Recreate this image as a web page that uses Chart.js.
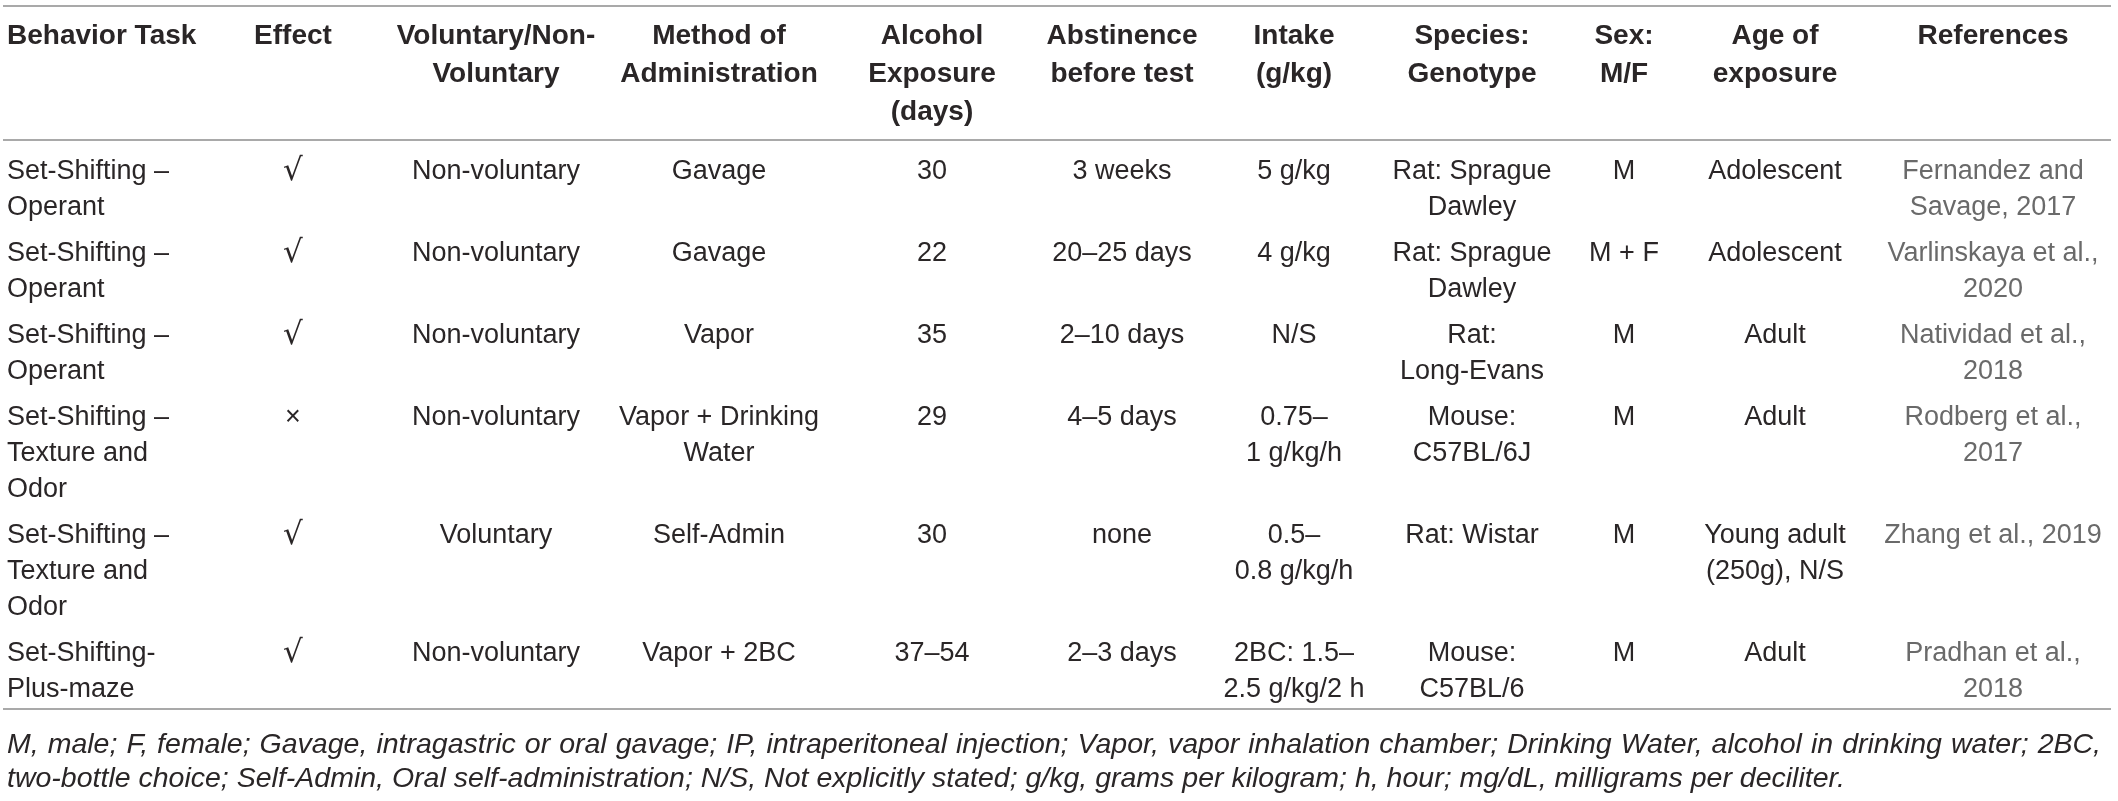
<!DOCTYPE html>
<html>
<head>
<meta charset="utf-8">
<title>Set-shifting table</title>
<script src="https://cdn.jsdelivr.net/npm/chart.js@4.4.1/dist/chart.umd.min.js"></script>
<style>
    html, body {
        margin: 0;
        padding: 0;
        background: #ffffff;
    }

    #wrap {
        width: 2118px;
        height: 801px;
    }
</style>
</head>
<body>
<div id="wrap">
    <canvas id="tbl" width="2118" height="801"></canvas>
</div>
<script>
// ---- table content ----

const headers = [
    ["Behavior Task"],
    ["Effect"],
    ["Voluntary/Non-", "Voluntary"],
    ["Method of", "Administration"],
    ["Alcohol", "Exposure", "(days)"],
    ["Abstinence", "before test"],
    ["Intake", "(g/kg)"],
    ["Species:", "Genotype"],
    ["Sex:", "M/F"],
    ["Age of", "exposure"],
    ["References"]
];

const behaviorTask = [
    ["Set-Shifting –", "Operant"],
    ["Set-Shifting –", "Operant"],
    ["Set-Shifting –", "Operant"],
    ["Set-Shifting –", "Texture and", "Odor"],
    ["Set-Shifting –", "Texture and", "Odor"],
    ["Set-Shifting-", "Plus-maze"]
];

const effect = ["√", "√", "√", "×", "√", "√"];

const voluntary = [
    "Non-voluntary",
    "Non-voluntary",
    "Non-voluntary",
    "Non-voluntary",
    "Voluntary",
    "Non-voluntary"
];

const method = [
    "Gavage",
    "Gavage",
    "Vapor",
    ["Vapor + Drinking", "Water"],
    "Self-Admin",
    "Vapor + 2BC"
];

const exposureDays = ["30", "22", "35", "29", "30", "37–54"];

const abstinence = [
    "3 weeks",
    "20–25 days",
    "2–10 days",
    "4–5 days",
    "none",
    "2–3 days"
];

const intake = [
    "5 g/kg",
    "4 g/kg",
    "N/S",
    ["0.75–", "1 g/kg/h"],
    ["0.5–", "0.8 g/kg/h"],
    ["2BC: 1.5–", "2.5 g/kg/2 h"]
];

const species = [
    ["Rat: Sprague", "Dawley"],
    ["Rat: Sprague", "Dawley"],
    ["Rat:", "Long-Evans"],
    ["Mouse:", "C57BL/6J"],
    "Rat: Wistar",
    ["Mouse:", "C57BL/6"]
];

const sex = ["M", "M + F", "M", "M", "M", "M"];

const ageOfExposure = [
    "Adolescent",
    "Adolescent",
    "Adult",
    "Adult",
    ["Young adult", "(250g), N/S"],
    "Adult"
];

const references = [
    ["Fernandez and", "Savage, 2017"],
    ["Varlinskaya et al.,", "2020"],
    ["Natividad et al.,", "2018"],
    ["Rodberg et al.,", "2017"],
    "Zhang et al., 2019",
    ["Pradhan et al.,", "2018"]
];

const footnote = [
    "M, male; F, female; Gavage, intragastric or oral gavage; IP, intraperitoneal injection; Vapor, vapor inhalation chamber; Drinking Water, alcohol in drinking water; 2BC,",
    "two-bottle choice; Self-Admin, Oral self-administration; N/S, Not explicitly stated; g/kg, grams per kilogram; h, hour; mg/dL, milligrams per deciliter."
];

const columns = [
    behaviorTask,
    effect,
    voluntary,
    method,
    exposureDays,
    abstinence,
    intake,
    species,
    sex,
    ageOfExposure,
    references
];

// ---- layout / style ----

const W = 2118;
const H = 801;

const colX = [7, 293, 496, 719, 932, 1122, 1294, 1472, 1624, 1775, 1993];
const colAlign = colX.map((_, i) => i === 0 ? "left" : "center");

const ruleLeft = 3;
const ruleRight = 2111;
const topRule = 6;
const headRule = 140;
const headFirst = 36;
const headLineH = 38;

const bodyTop = 150;
const lineH = 36;
const rowPad = 10;
const firstLineOffset = 22;

const footBase = [753, 787];
const footLeft = 7;
const footRight = 2101;

const bodyFont = "27px 'Liberation Sans', Arial, sans-serif";
const headFont = "bold 28px 'Liberation Sans', Arial, sans-serif";
const checkFont = "31px 'DejaVu Sans', sans-serif";
const footFont = "italic 28.5px 'Liberation Sans', Arial, sans-serif";

const textColor = "#2a2627";
const refColor = "#6a6a6a";
const ruleColor = "#a9a9a9";

const asLines = v => Array.isArray(v) ? v : [v];

// row tops follow from how many lines each row needs
const rowLines =
    behaviorTask.map(
        (_, r) => Math.max(
            ...columns.map(col => asLines(col[r]).length)
        )
    );

const rowTop = [];
rowLines.reduce((top, n, r) => {
    rowTop[r] = top;
    return top + n * lineH + rowPad;
}, bodyTop);

const bottomRule =
    rowTop[rowTop.length - 1] +
    rowLines[rowLines.length - 1] * lineH + 5;

// ---- drawing ----

const tablePlugin = {

    id: "tableText",

    afterDatasetsDraw(chart) {

        const ctx = chart.ctx;
        const px = v => chart.scales.x.getPixelForValue(v);
        const py = v => chart.scales.y.getPixelForValue(v);
        const step = (py(lineH) - py(0));

        ctx.save();

        // horizontal rules
        ctx.strokeStyle = ruleColor;
        ctx.lineWidth = 2;
        [topRule, headRule, bottomRule].forEach(y => {
            ctx.beginPath();
            ctx.moveTo(px(ruleLeft), py(y));
            ctx.lineTo(px(ruleRight), py(y));
            ctx.stroke();
        });

        // header
        ctx.font = headFont;
        ctx.fillStyle = textColor;
        ctx.textBaseline = "middle";
        headers.forEach((lines, c) => {
            ctx.textAlign = colAlign[c];
            lines.forEach((t, i) =>
                ctx.fillText(
                    t,
                    px(colX[c]),
                    py(headFirst + i * headLineH)
                )
            );
        });

        // body cells, one dataset per column
        chart.data.datasets.forEach((ds, c) => {
            const meta = chart.getDatasetMeta(c);
            ctx.textAlign = colAlign[c];
            ctx.fillStyle =
                ds.cells === references ? refColor : textColor;
            meta.data.forEach((pt, r) => {
                asLines(ds.cells[r]).forEach((t, i) => {
                    ctx.font = t === "√" ? checkFont : bodyFont;
                    ctx.fillText(t, pt.x, pt.y + step * i);
                });
            });
        });

        // footnote, first line justified
        ctx.font = footFont;
        ctx.fillStyle = textColor;
        ctx.textAlign = "left";
        ctx.textBaseline = "alphabetic";

        const words = footnote[0].split(" ");
        const wordsW =
            words.reduce((s, w) => s + ctx.measureText(w).width, 0);
        const gap =
            Math.max(
                ctx.measureText(" ").width * 0.8,
                (px(footRight) - px(footLeft) - wordsW) / (words.length - 1)
            );
        let x = px(footLeft);
        words.forEach(w => {
            ctx.fillText(w, x, py(footBase[0]));
            x += ctx.measureText(w).width + gap;
        });

        ctx.fillText(footnote[1], px(footLeft), py(footBase[1]));

        ctx.restore();
    }
};

let tableChart;

function drawTable(canvas) {

    if (tableChart)
        tableChart.destroy();

    tableChart =
        new Chart(canvas, {

            type: "scatter",

            data: {
                datasets:
                    columns.map((col, c) => ({
                        label: headers[c].join(" "),
                        cells: col,
                        data: col.map((_, r) => ({
                            x: colX[c],
                            y: rowTop[r] + firstLineOffset
                        })),
                        pointRadius: 0,
                        pointHoverRadius: 0
                    }))
            },

            options: {
                responsive: false,
                animation: false,
                devicePixelRatio: 1,
                layout: { padding: 0 },
                plugins: {
                    legend: { display: false },
                    tooltip: { enabled: false }
                },
                events: [],
                scales: {
                    x: {
                        type: "linear",
                        min: 0,
                        max: W,
                        display: false
                    },
                    y: {
                        type: "linear",
                        min: 0,
                        max: H,
                        reverse: true,
                        display: false
                    }
                }
            },

            plugins: [tablePlugin]
        });
}

drawTable(document.getElementById("tbl"));
</script>
</body>
</html>
